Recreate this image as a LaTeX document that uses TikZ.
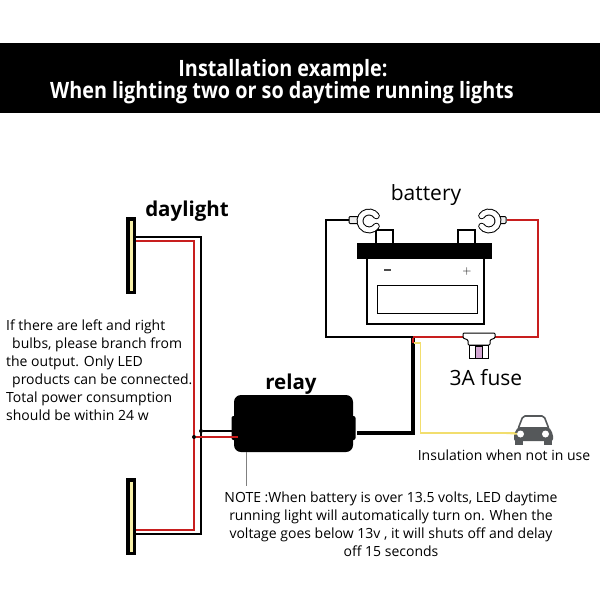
\documentclass[tikz,border=0pt]{standalone}
\usepackage{fontspec}
\setmainfont{Open Sans}
\newfontfamily\titlefont[FakeStretch=0.88]{Open Sans}
\usetikzlibrary{positioning, calc}
\definecolor{wirered}{HTML}{C81E1E}
\definecolor{wireyellow}{HTML}{F2DE6E}
\definecolor{lampyellow}{HTML}{F7F0A8}
\definecolor{carbody}{HTML}{55585A}
\definecolor{lug}{HTML}{EDEDED}

\begin{document}
\begin{tikzpicture}[
    x=1pt, y=-1pt,
    outlinebox/.style={draw=black, line width=1.2pt, fill=white, inner sep=0pt},
    lamp/.style={draw=black, line width=3.5pt, fill=lampyellow, minimum width=6.5pt, minimum height=73.5pt, inner sep=0pt},
    wire/.style={line width=1.3pt, black},
    redwire/.style={line width=1.3pt, wirered},
    yellowwire/.style={line width=1.8pt, wireyellow},
    thickwire/.style={line width=3.6pt, black},
    label/.style={font=\fontsize{21}{24}\selectfont, inner sep=0pt},
    boldlabel/.style={font=\bfseries\fontsize{20.5}{24}\selectfont, inner sep=0pt},
    titletext/.style={text=white, font=\titlefont\bfseries\fontsize{22.5}{24}\selectfont, inner sep=0pt},
    note/.style={font=\fontsize{14}{18}\selectfont, inner sep=0pt},
    dot/.style={circle, fill=black, minimum size=4pt, inner sep=0pt},
    clamplug/.style={draw=black, line width=1pt, fill=lug, rounded corners=1pt, minimum width=11pt, minimum height=7pt, inner sep=0pt}
]
\useasboundingbox (0,0) rectangle (600,600);

% Title band
\node (band) [fill=black, minimum width=600pt, minimum height=70pt, inner sep=0pt] at (300,78) {};
\node (title1) [titletext] at (283,71) {Installation example:};
\node (title2) [titletext] at (282,93) {When lighting two or so daytime running lights};

% Battery
\node (postL) [outlinebox, minimum width=17pt, minimum height=14pt] at (384.5,237) {};
\node (postR) [outlinebox, minimum width=17pt, minimum height=14pt] at (466.5,237) {};
\node (case) [outlinebox, minimum width=117pt, minimum height=66pt] at (425.5,291) {};
\node (lid) [fill=black, minimum width=135pt, minimum height=16pt, inner sep=0pt] at (424.5,251) {};
\node (window) [draw=black, line width=0.8pt, minimum width=100pt, minimum height=28pt, inner sep=0pt] at (427,299) {};
\node (minus) [fill=black!70, minimum width=7pt, minimum height=1.3pt, inner sep=0pt] at (387,270) {};
\node (plus) [font=\fontsize{13}{13}\selectfont, inner sep=0pt] at (467,271) {$+$};
\node (batterylabel) [label] at (426,195) {battery};

% Clamps
\node (clampL) [clamplug] at (354.5,220) {};
\node (clampR) [clamplug] at (500.5,220) {};
\draw[line width=6.8pt, black, line cap=round] ($(369,221)+(35:9pt)$) arc[start angle=35, end angle=325, radius=9pt];
\draw[line width=4.8pt, white, line cap=round] ($(369,221)+(35:9pt)$) arc[start angle=35, end angle=325, radius=9pt];
\draw[line width=6.8pt, black, line cap=round] ($(489,221)+(145:9pt)$) arc[start angle=145, end angle=-145, radius=9pt];
\draw[line width=4.8pt, white, line cap=round] ($(489,221)+(145:9pt)$) arc[start angle=145, end angle=-145, radius=9pt];

% Fuse
\coordinate (fuseL) at (463,337);
\coordinate (fuseR) at (495,337);
\coordinate (tap) at (413,337);
\draw[wire] (clampL.west) -- (326,220) |- (tap);
\draw[redwire] (tap) -- (fuseL);
\draw[redwire] (fuseR) -- (538,337) |- (clampR.east);
\draw[line width=1pt, fill=white, rounded corners=1pt] (463,333) -- (495,333) -- (495,338) -- (490,340) -- (490,345) -- (468,345) -- (468,340) -- (463,338) -- cycle;
\node (fusebody) [outlinebox, line width=1pt, minimum width=19pt, minimum height=13pt] at (478.5,352) {};
\node (fusecore) [fill=violet!35, draw=black, line width=0.4pt, minimum width=7pt, minimum height=12pt, inner sep=0pt] at (478.5,352) {};
\node (fuselabel) [label] at (486,378) {3A fuse};

% Relay
\node (nub) [fill=black, rounded corners=2pt, minimum width=124pt, minimum height=24pt, inner sep=0pt] at (293.5,428) {};
\node (relay) [fill=black, rounded corners=7pt, minimum width=119pt, minimum height=57pt, inner sep=0pt] at (293.5,423.5) {};
\node (relaylabel) [boldlabel] at (291,384) {relay};
\coordinate (relayOut) at (357,433);

% Thick output and yellow insulation wire
\draw[thickwire] (413,338) |- (relayOut);
\draw[redwire] (413,338) -- (413,343);
\coordinate (carIn) at (520,433);
\draw[yellowwire] (414,343) -- (420.5,343) |- (carIn);

% Car
\draw[line width=1.6pt, carbody, fill=white, rounded corners=2pt] (518,429) -- (523,416) -- (544,416) -- (549,429) -- cycle;
\node (wheelL) [fill=carbody, minimum width=8pt, minimum height=6pt, inner sep=0pt] at (518.5,442) {};
\node (wheelR) [fill=carbody, minimum width=8pt, minimum height=6pt, inner sep=0pt] at (547.5,442) {};
\fill[carbody, rounded corners=2pt] (514,441) -- (514,434) -- (518,427) -- (549,427) -- (553,434) -- (553,441) -- cycle;
\node (lightL) [circle, fill=white, minimum size=7pt, inner sep=0pt] at (520.5,434) {};
\node (lightR) [circle, fill=white, minimum size=7pt, inner sep=0pt] at (545.5,434) {};
\draw[yellowwire] (505,433) -- (lightL);
\node (carlabel) [note] at (504,455) {Insulation when not in use};

% Lamps and their wires
\node (lampT) [lamp] at (131,255.5) {};
\node (lampB) [lamp] at (131,516.5) {};
\node (daylightlabel) [boldlabel] at (187,211) {daylight};
\coordinate (cornerT) at (201,237);
\coordinate (redT) at (194,241);
\coordinate (cornerB) at (201,534);
\coordinate (redB) at (194,530);
\draw[wire] (136,237) -- (cornerT) -- (cornerB) -- (136,534);
\draw[redwire] (136,241) -- (redT) -- (redB) -- (136,530);

% Relay leads
\node (dotB) [dot] at (201,431) {};
\node (dotR) [dot] at (194,437) {};
\draw[wire] (dotB) -- (234,431);
\draw[redwire] (dotR) -- (238,437);

% Note leader
\coordinate (noteTop) at (246,486);
\draw[line width=1pt, gray] (246,452) -- (noteTop);

% Texts
\node (leftnote) [note, align=left, anchor=north west] at (6,320) {If there are left and right\\
\hspace*{6pt}bulbs, please branch from\\
the output. Only LED\\
\hspace*{6pt}products can be connected.\\
Total power consumption\\
should be within 24 w};
\node (bottomnote) [note, align=center, anchor=north] at (391,492) {NOTE :When battery is over 13.5 volts, LED daytime\\
running light will automatically turn on. When the\\
voltage goes below 13v , it will shuts off and delay\\
off 15 seconds};

\end{tikzpicture}
\end{document}
